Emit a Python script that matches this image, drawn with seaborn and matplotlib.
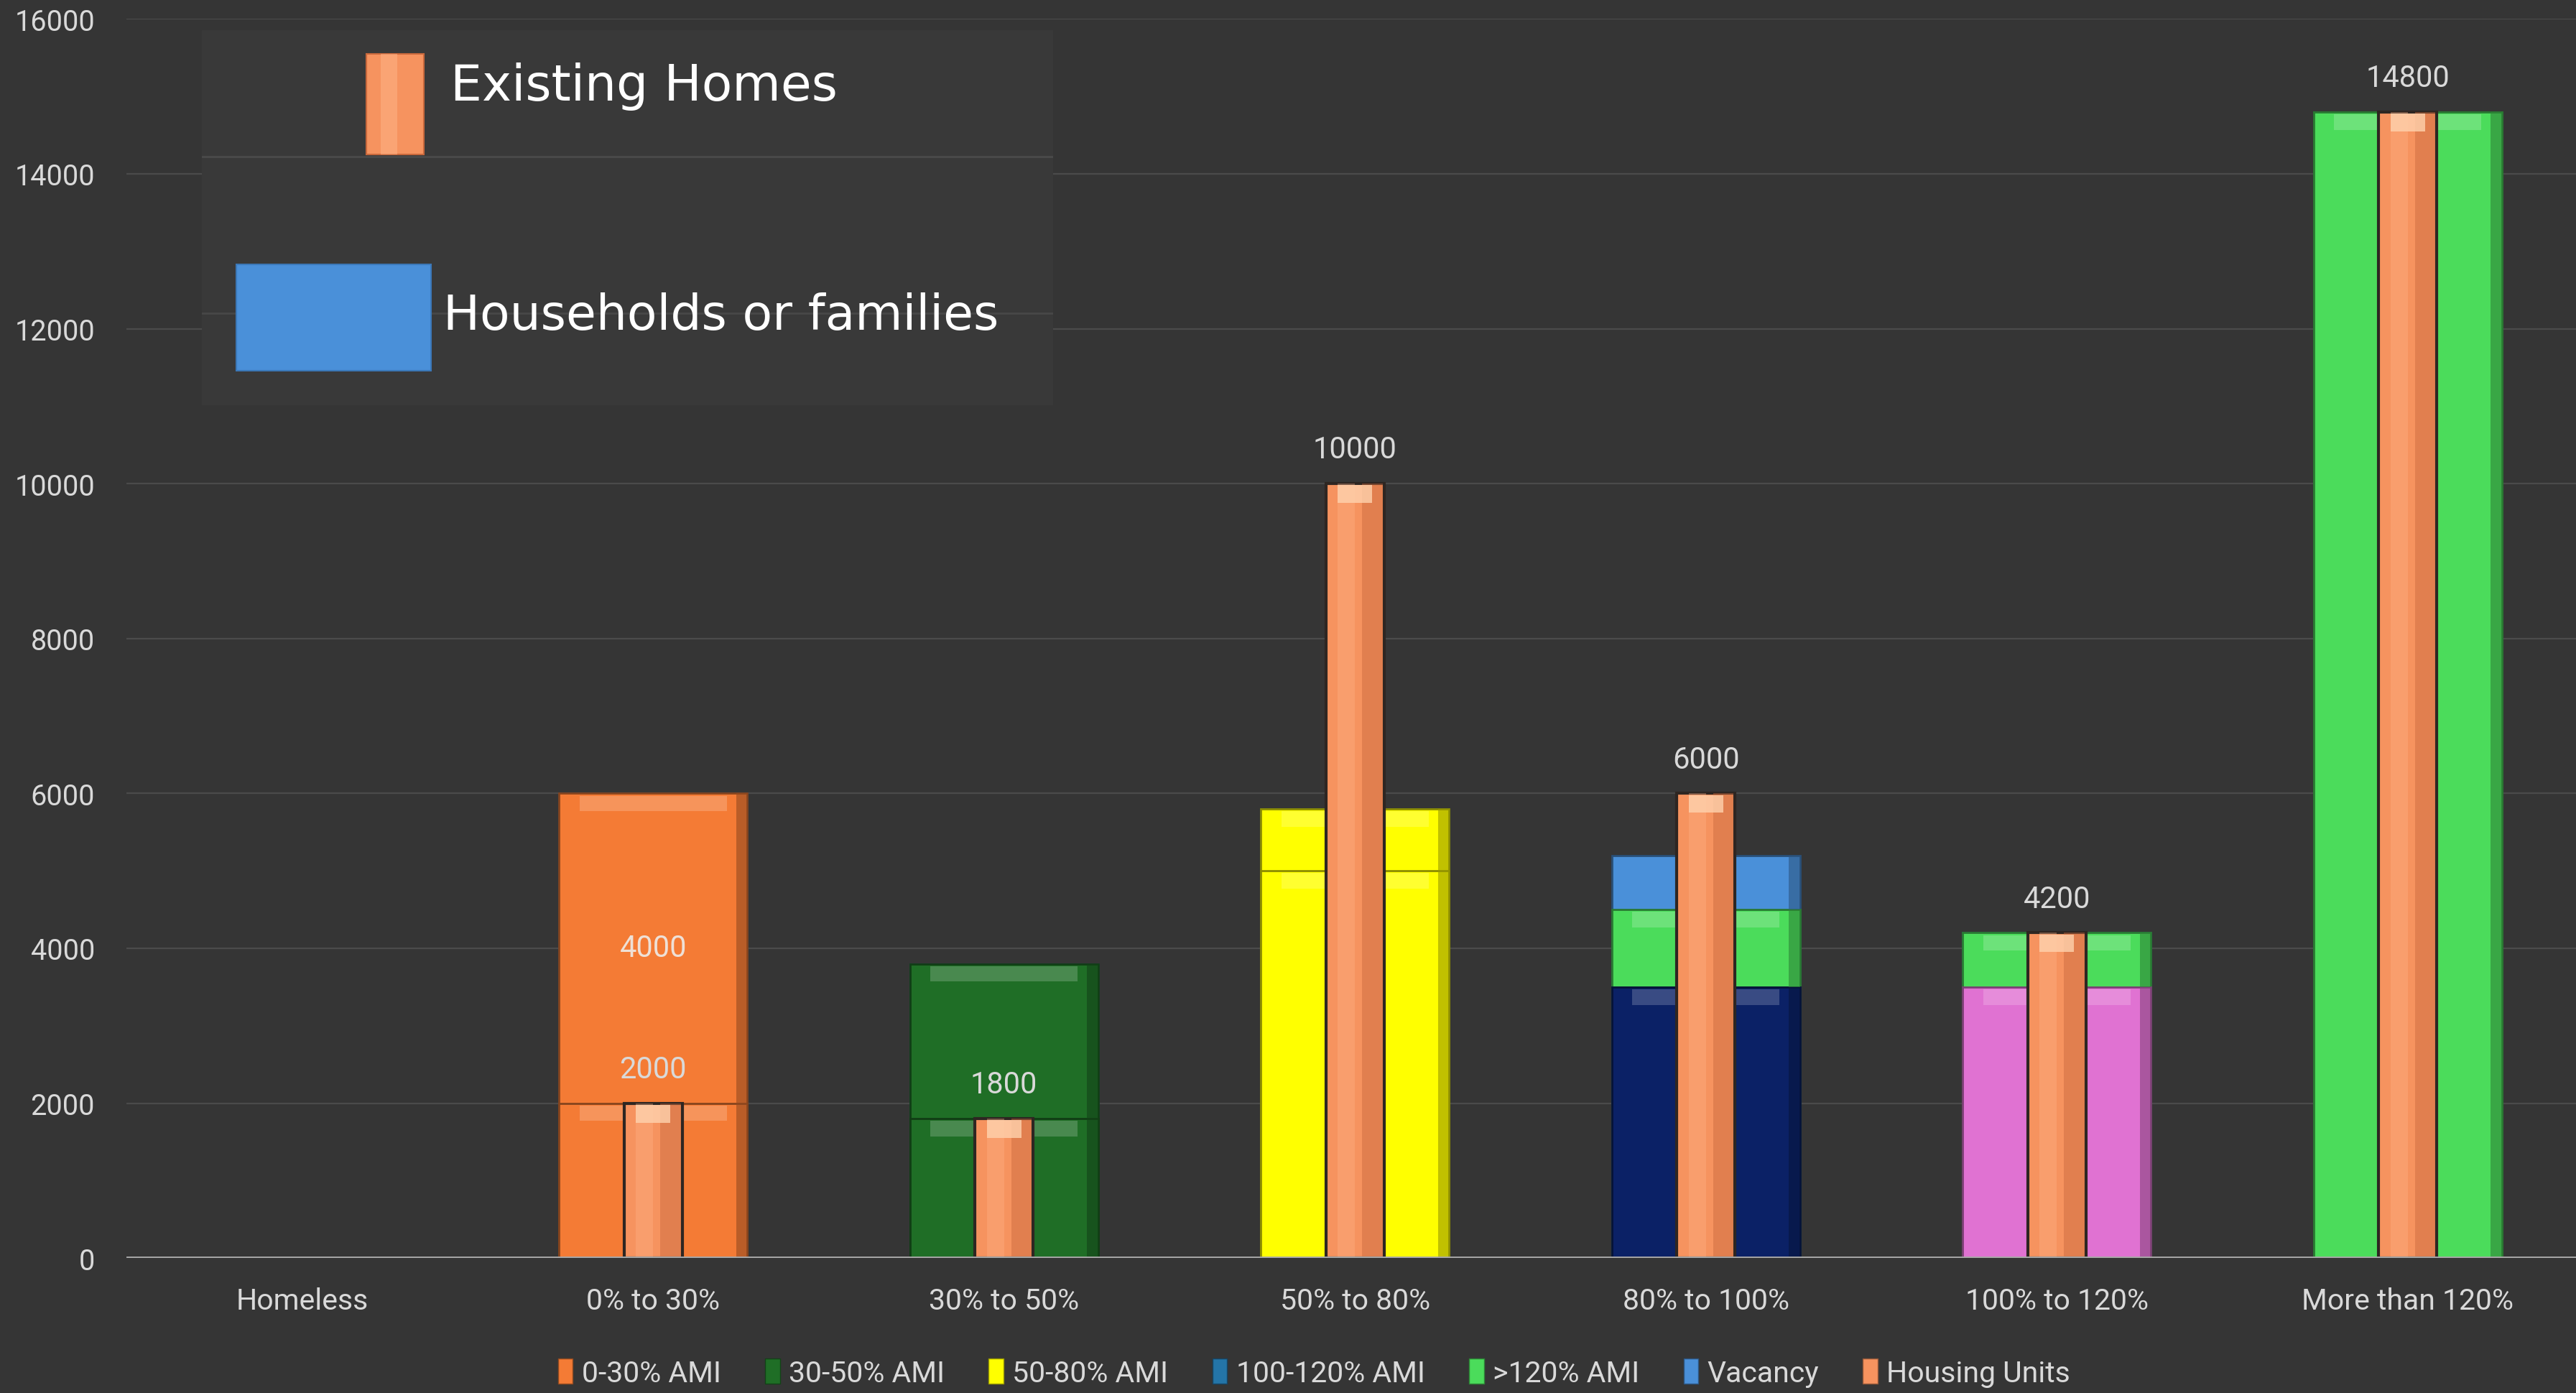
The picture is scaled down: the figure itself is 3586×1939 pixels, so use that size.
import numpy as np
import pandas as pd
import matplotlib
matplotlib.use("Agg")
import matplotlib.pyplot as plt
import matplotlib.colors as mcolors
from matplotlib.patches import Patch, Rectangle
import seaborn as sns

# ---------------- data ----------------
categories = ["Homeless", "0% to 30%", "30% to 50%", "50% to 80%",
              "80% to 100%", "100% to 120%", "More than 120%"]
housing_units = [0, 2000, 1800, 10000, 6000, 4200, 14800]      # Existing homes
base_segment = [0, 2000, 1800, 5000, 3500, 3500, 14800]        # households, lower block
middle_segment = [0, 4000, 2000, 800, 1000, 700, 0]            # households, upper block
vacancy_segment = [0, 0, 0, 0, 700, 0, 0]                      # vacancy
middle_labels = ["", "4000", "", "", "", "", ""]
yticks = [0, 2000, 4000, 6000, 8000, 10000, 12000, 14000, 16000]
legend_labels = ["0-30% AMI", "30-50% AMI", "50-80% AMI", "100-120% AMI",
                 ">120% AMI", "Vacancy", "Housing Units"]

# ---------------- style ----------------
BG = "#353535"
TXT = "#d9d9d9"
C_0_30 = "#F47B35"
C_30_50 = "#1F6E26"
C_50_80 = "#FFFF00"
C_80_100 = "#0B2166"
C_100_120 = "#E072D2"
C_GT120 = "#4BDC5B"
C_VAC = "#4A90D9"
C_HU = "#F6935F"
C_LEG_100_120 = "#2475A8"

base_colors = [C_0_30, C_0_30, C_30_50, C_50_80, C_80_100, C_100_120, C_GT120]
middle_colors = [C_0_30, C_0_30, C_30_50, C_50_80, C_GT120, C_GT120, C_GT120]
vacancy_colors = [C_VAC] * len(categories)
legend_colors = [C_0_30, C_30_50, C_50_80, C_LEG_100_120, C_GT120, C_VAC, C_HU]

WIDE = 0.537
NARROW = 0.165

sns.set_theme(style="dark")
plt.rcParams["font.family"] = ["Roboto", "DejaVu Sans"]


def shade(c, f):
    r, g, b = mcolors.to_rgb(c)
    if f < 1:
        return (r * f, g * f, b * f)
    t = f - 1
    return (r + (1 - r) * t, g + (1 - g) * t, b + (1 - b) * t)


df = pd.DataFrame({
    "category": categories,
    "housing_units": housing_units,
    "base": base_segment,
    "middle": middle_segment,
    "vacancy": vacancy_segment,
})
df["cum_mid"] = df["base"] + df["middle"]
df["cum_top"] = df["cum_mid"] + df["vacancy"]

fig = plt.figure(figsize=(35.87, 19.40), dpi=100)
fig.patch.set_facecolor(BG)
ax = fig.add_axes([0.0492, 0.0968, 0.9533, 0.8891])
ax.set_facecolor(BG)


def layer(col, colors, width, z, edge_lw=2.0, edge=None):
    n0 = len(ax.patches)
    sns.barplot(data=df, x="category", y=col, hue="category",
                palette=dict(zip(categories, colors)), saturation=1,
                width=width, legend=False, errorbar=None, ax=ax,
                zorder=z, order=categories, hue_order=categories)
    for p in ax.patches[n0:]:
        if p.get_height() <= 0:
            p.set_linewidth(0)
            p.set_visible(False)
        else:
            fc = p.get_facecolor()
            p.set_edgecolor(edge if edge is not None else shade(fc[:3], 0.55))
            p.set_linewidth(edge_lw)


# stacked household bars (cumulative overlay, top-most first)
layer("cum_top", vacancy_colors, WIDE, 2)
layer("cum_mid", middle_colors, WIDE, 2.1)
layer("base", base_colors, WIDE, 2.2)

# bevel highlights at the top of every segment
x = np.arange(len(categories))
seg_tops = [
    (df["base"].to_numpy(), df["base"].to_numpy(), base_colors),
    (df["cum_mid"].to_numpy(), df["middle"].to_numpy(), middle_colors),
    (df["cum_top"].to_numpy(), df["vacancy"].to_numpy(), vacancy_colors),
]
for tops, vals, cols in seg_tops:
    for i in range(len(categories)):
        if vals[i] > 0 and cols[i] != C_VAC:
            band = min(200, vals[i] * 0.3)
            ax.bar(x[i], band, bottom=tops[i] - band - 30, width=WIDE * 0.78,
                   color=shade(cols[i], 1.35), alpha=0.55, linewidth=0, zorder=2.3)
    # right-side shadow
    for i in range(len(categories)):
        if vals[i] > 0:
            ax.bar(x[i] + WIDE * 0.47, vals[i], bottom=tops[i] - vals[i],
                   width=WIDE * 0.06, color=shade(cols[i], 0.6), alpha=0.6,
                   linewidth=0, zorder=2.3)

# existing homes (narrow) bars
layer("housing_units", [C_HU] * len(categories), NARROW, 3, edge_lw=3.0, edge="#2e2622")
for i, v in enumerate(housing_units):
    if v > 0:
        ax.bar(x[i] + NARROW * 0.3, v, width=NARROW * 0.35, color="#c8683c",
               alpha=0.45, linewidth=0, zorder=3.1)
        ax.bar(x[i] - NARROW * 0.15, v, width=NARROW * 0.3, color="#ffb58a",
               alpha=0.35, linewidth=0, zorder=3.1)
        ax.bar(x[i], 230, bottom=v - 250, width=NARROW * 0.6, color="#ffd2ae",
               alpha=0.8, linewidth=0, zorder=3.2)

# value labels
for i, v in enumerate(housing_units):
    if v > 0:
        ax.annotate(str(v), xy=(x[i], v), xytext=(0, 34), textcoords="offset points",
                    ha="center", va="center", fontsize=30, color=TXT, zorder=6)
for i, lab in enumerate(middle_labels):
    if lab:
        ax.text(x[i], base_segment[i] + middle_segment[i] / 2, lab, ha="center",
                va="center", fontsize=30, color="#eee0d6", zorder=6)

# axes styling
ax.set_ylim(0, 16000)
ax.set_xlim(-0.5, 6.5)
ax.set_yticks(yticks)
ax.set_yticklabels([str(t) for t in yticks])
ax.set_xlabel("")
ax.set_ylabel("")
for s in ax.spines.values():
    s.set_visible(False)
ax.yaxis.grid(True, color="#4b4b4b", linewidth=1.6)
ax.xaxis.grid(False)
ax.set_axisbelow(True)
ax.axhline(0, color="#a8a8a8", linewidth=3.5, zorder=5)
ax.tick_params(axis="x", length=0, pad=29, labelsize=29.5, labelcolor=TXT)
ax.tick_params(axis="y", length=0, pad=32, labelsize=28.5, labelcolor=TXT)

# top-left explanatory box
lax = fig.add_axes([0.0783, 0.7088, 0.3304, 0.269])
lax.set_facecolor("#393939")
lax.set_xlim(0, 1)
lax.set_ylim(0, 1)
lax.set_xticks([])
lax.set_yticks([])
for s in lax.spines.values():
    s.set_visible(False)
lax.axhline(0.663, color="#4a4a4a", linewidth=2)
lax.axhline(0.245, color="#474747", linewidth=2)
lax.add_patch(Rectangle((0.193, 0.669), 0.068, 0.267, facecolor=C_HU,
                        edgecolor="#c8683c", linewidth=1.5, zorder=3))
lax.add_patch(Rectangle((0.21, 0.669), 0.02, 0.267, facecolor="#ffb58a",
                        alpha=0.5, linewidth=0, zorder=3.1))
lax.add_patch(Rectangle((0.041, 0.092), 0.228, 0.284, facecolor=C_VAC,
                        edgecolor="#3b78b8", linewidth=1.5, zorder=3))
lax.text(0.292, 0.852, "Existing Homes", ha="left", va="center", fontsize=50,
         color="white", family=["DejaVu Sans"], zorder=4)
lax.text(0.284, 0.239, "Households or families", ha="left", va="center", fontsize=49,
         color="white", family=["DejaVu Sans"], zorder=4)

# bottom legend
handles = [Patch(facecolor=c, edgecolor=shade(c, 0.6), linewidth=1) for c in legend_colors]
fig.legend(handles, legend_labels, loc="center", bbox_to_anchor=(0.51, 0.0144),
           ncol=7, frameon=False, fontsize=29.5, handlelength=0.5, handleheight=0.9,
           handletextpad=0.3, columnspacing=1.5, labelcolor=TXT)

fig.savefig("out.png", dpi=100, facecolor=BG)
